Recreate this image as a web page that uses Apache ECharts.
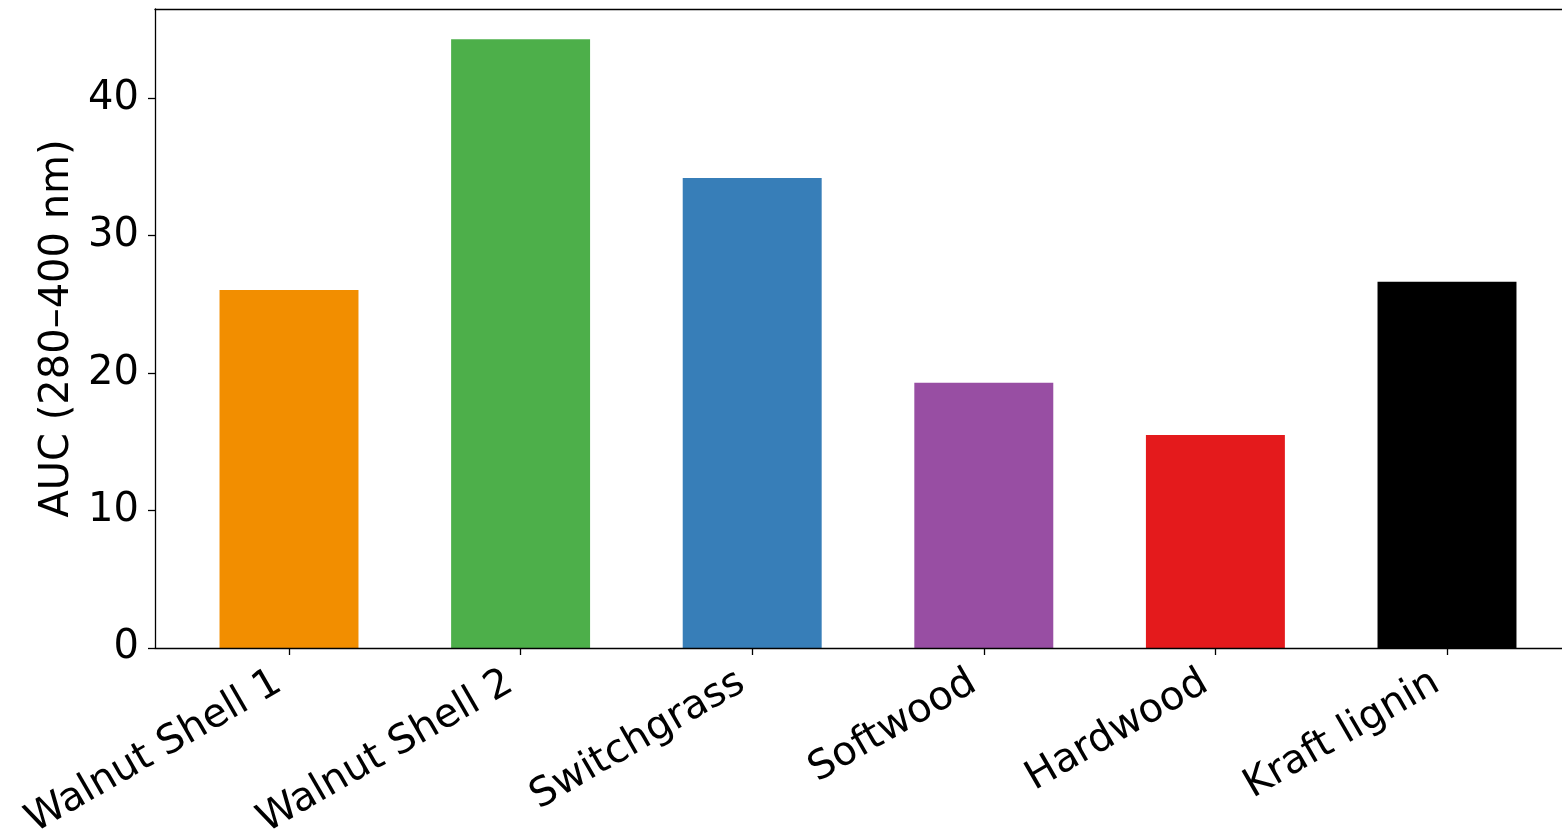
<!DOCTYPE html>
<html>
<head>
<meta charset="utf-8">
<script src="https://cdn.jsdelivr.net/npm/echarts@6/dist/echarts.min.js"></script>
<style>html,body{margin:0;padding:0;background:#fff;}#c{width:1562px;height:835px;}</style>
</head>
<body>
<div id="c"></div>
<script>
const categories = ['Walnut Shell 1', 'Walnut Shell 2', 'Switchgrass', 'Softwood', 'Hardwood', 'Kraft lignin'];
const values = [26.05, 44.3, 34.2, 19.3, 15.5, 26.65];
const colors = ['#f28e00', '#4daf4a', '#377eb8', '#984ea3', '#e41a1c', '#000000'];
const yTickInterval = 10;
const yMax = 46.5;
const yLabel = 'AUC (280\u2013400 nm)';

const FONT = 'DejaVu Sans';
const SPINE = {show: true, lineStyle: {color: '#000', width: 1.3}};
const chart = echarts.init(document.getElementById('c'), null, {renderer: 'canvas'});
const option = {
  animation: false,
  backgroundColor: '#fff',
  grid: [
    {left: 155, width: 1427, top: 9, bottom: 187, containLabel: false, outerBoundsMode: 'none'},
    {left: 173.2, width: 1389.6, top: 9, bottom: 187, containLabel: false, outerBoundsMode: 'none'}
  ],
  xAxis: [
    {gridIndex: 0, type: 'value', min: 0, max: 1, position: 'bottom', z: 5,
     axisLine: SPINE, axisTick: {show: false}, axisLabel: {show: false}, splitLine: {show: false}},
    {
      gridIndex: 1, type: 'category', data: categories,
      axisLine: {show: false},
      axisTick: {show: true, alignWithLabel: true, length: 7, lineStyle: {color: '#000', width: 1.3}},
      axisLabel: {rotate: 30, fontFamily: FONT, fontSize: 40, color: '#000', margin: 26, padding: [0, 12, 0, 0], interval: 0}
    },
    {gridIndex: 0, type: 'value', min: 0, max: 1, position: 'top', z: 5,
     axisLine: SPINE, axisTick: {show: false}, axisLabel: {show: false}, splitLine: {show: false}}
  ],
  yAxis: [
    {
      gridIndex: 0, type: 'value', min: 0, max: yMax, interval: yTickInterval, z: 5,
      name: yLabel, nameLocation: 'middle', nameGap: 77,
      nameTextStyle: {fontFamily: FONT, fontSize: 40, color: '#000'},
      axisLine: SPINE,
      axisTick: {show: true, length: 7, lineStyle: {color: '#000', width: 1.3}},
      axisLabel: {fontFamily: FONT, fontSize: 40, color: '#000', margin: 16, showMaxLabel: false},
      splitLine: {show: false}
    },
    {gridIndex: 1, type: 'value', min: 0, max: yMax, show: false, splitLine: {show: false}}
  ],
  series: [{
    type: 'bar',
    xAxisIndex: 1, yAxisIndex: 1,
    barWidth: '60%',
    data: values.map((v, i) => ({value: v, itemStyle: {color: colors[i]}}))
  }]
};
chart.setOption(option);
</script>
</body>
</html>
